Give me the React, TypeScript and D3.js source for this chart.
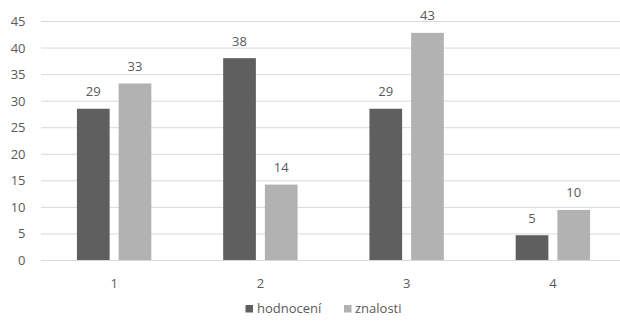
import React from "react";
import * as d3 from "d3";

const categories = ["1", "2", "3", "4"];
const seriesNames = ["hodnocení", "znalosti"];
const hodnoceni = [28.57, 38.1, 28.57, 4.76];
const znalosti = [33.33, 14.29, 42.86, 9.52];
const yTicks = [0, 5, 10, 15, 20, 25, 30, 35, 40, 45];
const colors = ["#5f5f5f", "#b2b2b2"];

const W = 620, H = 322;
const left = 41, right = 626, top = 21.5, bottom = 260.5;
const font = "'Open Sans', 'Liberation Sans', sans-serif";
const textColor = "#595959";
const fs = 13;

export default function App() {
  const x = d3.scaleBand<string>().domain(categories).range([left, right]).paddingInner(0).paddingOuter(0);
  const y = d3.scaleLinear().domain([0, 45]).range([bottom, top]);
  const step = x.step();
  const barW = 32.7;
  const gap = 9;
  const groupW = barW * 2 + gap;
  const series = [hodnoceni, znalosti];

  return (
    <svg width={W} height={H} style={{ position: "absolute", left: 0, top: 0, background: "#fff" }}>
      {yTicks.map((t) => (
        <g key={t}>
          <line x1={left} x2={W} y1={y(t)} y2={y(t)} stroke="#d9d9d9" strokeWidth={1} />
          <text x={25.5} y={y(t)} dy="0.35em" textAnchor="end" fontFamily={font} fontSize={fs} fill={textColor}>{t}</text>
        </g>
      ))}
      {categories.map((c, i) => {
        const x0 = (x(c) as number) + (step - groupW) / 2;
        return (
          <g key={c}>
            {series.map((s, k) => {
              const bx = x0 + k * (barW + gap);
              const v = s[i];
              return (
                <g key={k}>
                  <rect x={bx} y={y(v)} width={barW} height={y(0) - y(v)} fill={colors[k]} />
                  <text x={bx + barW / 2} y={y(v) - 12.5} textAnchor="middle" fontFamily={font} fontSize={fs} fill={textColor}>{Math.round(v)}</text>
                </g>
              );
            })}
            <text x={(x(c) as number) + step / 2} y={288} textAnchor="middle" fontFamily={font} fontSize={fs} fill={textColor}>{c}</text>
          </g>
        );
      })}
      <line x1={left} x2={W} y1={y(0)} y2={y(0)} stroke="#d9d9d9" strokeWidth={1.2} />
      <g>
        <rect x={245.5} y={305} width={7.5} height={7.5} fill={colors[0]} />
        <text x={257} y={313} fontFamily={font} fontSize={fs} fill={textColor}>{seriesNames[0]}</text>
        <rect x={344} y={305} width={7.5} height={7.5} fill={colors[1]} />
        <text x={355} y={313} fontFamily={font} fontSize={fs} fill={textColor}>{seriesNames[1]}</text>
      </g>
    </svg>
  );
}
